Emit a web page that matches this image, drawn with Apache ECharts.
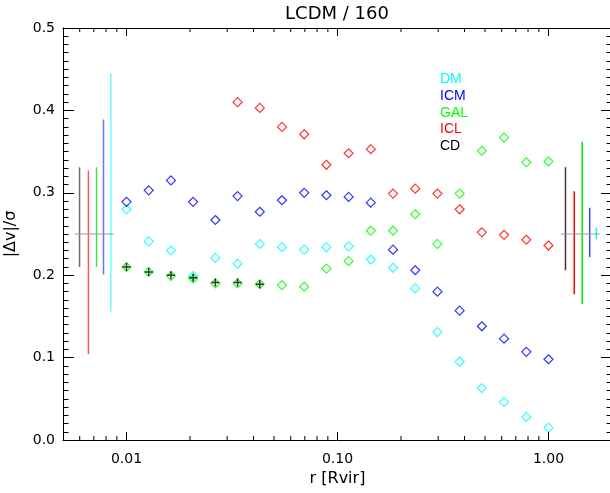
<!DOCTYPE html>
<html>
<head>
<meta charset="utf-8">
<script src="https://cdn.jsdelivr.net/npm/echarts@6/dist/echarts.min.js"></script>
<style>html,body{margin:0;padding:0;background:#fff}#c{width:610px;height:493px}</style>
</head>
<body>
<div id="c"></div>
<script>
// radii (r / Rvir)
const radii = [0.0100, 0.01274, 0.01624, 0.02069, 0.02637, 0.03360, 0.04281, 0.05456, 0.06952, 0.08859,
               0.1129, 0.1438, 0.1833, 0.2336, 0.2976, 0.3793, 0.4833, 0.6158, 0.7848, 1.0000];
const dmVals  = [0.280, 0.241, 0.230, 0.199, 0.221, 0.214, 0.238, 0.234, 0.231, 0.234,
                 0.235, 0.219, 0.209, 0.184, 0.131, 0.095, 0.063, 0.046, 0.028, 0.015];
const icmVals = [0.289, 0.303, 0.315, 0.289, 0.267, 0.296, 0.277, 0.291, 0.300, 0.297,
                 0.295, 0.288, 0.231, 0.206, 0.180, 0.157, 0.138, 0.123, 0.107, 0.098];
const galVals = [0.210, 0.204, 0.199, 0.196, 0.190, 0.190, 0.189, 0.188, 0.186, 0.208,
                 0.217, 0.254, 0.254, 0.274, 0.238, 0.299, 0.351, 0.367, 0.337, 0.338];
// ICL starts at the 6th radius
const iclVals = [null, null, null, null, null, 0.410, 0.403, 0.380, 0.371, 0.334,
                 0.348, 0.353, 0.299, 0.305, 0.299, 0.280, 0.252, 0.249, 0.243, 0.236];
// CD only at the 7 innermost radii
const cdVals  = [0.210, 0.204, 0.200, 0.197, 0.191, 0.191, 0.189];

// error-bar indicators (order: CD, ICL, GAL, ICM, DM)
const errCenter = 0.25;
const errLeftX  = [0.00599, 0.00660, 0.00721, 0.00778, 0.00843];
const errLeftLo = [0.210, 0.104, 0.210, 0.201, 0.156];
const errLeftHi = [0.331, 0.327, 0.331, 0.389, 0.445];
const errLeftRef = [0.00569, 0.00871];
const errRightX  = [1.204, 1.325, 1.446, 1.568, 1.685];
const errRightLo = [0.206, 0.177, 0.165, 0.222, 0.244];
const errRightHi = [0.331, 0.302, 0.362, 0.282, 0.258];
const errRightRef = [1.144, 1.750];

const yTickLabels = ['0.0', '0.1', '0.2', '0.3', '0.4', '0.5'];
const xTickLabels = {0.01: '0.01', 0.1: '0.10', 1: '1.00'};
const xMajorTicks = [0.01, 0.1, 1];
const xMinorTicks = [0.006, 0.007, 0.008, 0.009,
                     0.02, 0.03, 0.04, 0.05, 0.06, 0.07, 0.08, 0.09,
                     0.2, 0.3, 0.4, 0.5, 0.6, 0.7, 0.8, 0.9];

const names = ['DM', 'ICM', 'GAL', 'ICL', 'CD'];
const colors = {DM: '#00ffff', ICM: '#0000ff', GAL: '#00ff00', ICL: '#ff0000', CD: '#000000'};
const errLeftColors  = ['#6e6e6e', '#ff5555', '#44e044', '#6e6eff', '#66ffff'];
const errRightColors = ['#3c3c3c', '#ff0000', '#00ee00', '#4848ee', '#00ffff'];

const chart = echarts.init(document.getElementById('c'), null, {renderer: 'canvas'});

function pts(vals) {
  const out = [];
  vals.forEach((v, i) => { if (v !== null) out.push([radii[i], v]); });
  return out;
}
function diamondSeries(name, vals) {
  return {
    name, type: 'scatter', data: pts(vals), symbol: 'diamond', symbolSize: 9,
    itemStyle: {color: 'rgba(0,0,0,0)', borderColor: colors[name], borderWidth: 1.2},
    z: 5
  };
}
const series = [];
// error bars
errLeftX.forEach((x, i) => series.push({
  name: 'errL' + i, type: 'line', data: [[x, errLeftLo[i]], [x, errLeftHi[i]]],
  showSymbol: false, symbol: 'none', lineStyle: {color: errLeftColors[i], width: 1.5}, z: 3, silent: true
}));
errRightX.forEach((x, i) => series.push({
  name: 'errR' + i, type: 'line', data: [[x, errRightLo[i]], [x, errRightHi[i]]],
  showSymbol: false, symbol: 'none', lineStyle: {color: errRightColors[i], width: 1.5}, z: 3, silent: true
}));
[errLeftRef, errRightRef].forEach((r, i) => series.push({
  name: 'ref' + i, type: 'line', data: [[r[0], errCenter], [r[1], errCenter]],
  showSymbol: false, symbol: 'none', lineStyle: {color: '#999999', width: 1}, z: 4, silent: true
}));
series.push(diamondSeries('DM', dmVals));
series.push(diamondSeries('ICM', icmVals));
series.push(diamondSeries('GAL', galVals));
series.push(diamondSeries('ICL', iclVals));
series.push({
  name: 'CD', type: 'scatter', data: pts(cdVals),
  symbol: 'path://M5,0 L5,10 M0,5 L10,5', symbolSize: 8,
  itemStyle: {color: 'none', borderColor: '#000', borderWidth: 1.5}, z: 6
});
// x-axis ticks (bottom and top), log style
const tickData = xMajorTicks.map(v => [v, 0, 1]).concat(xMinorTicks.map(v => [v, 0, 0]));
series.push({
  type: 'custom', silent: true, clip: false, z: 10,
  data: tickData,
  renderItem(params, api) {
    const v = api.value(0);
    const L = api.value(2) ? 8 : 4;
    const b = api.coord([v, 0]);
    const t = api.coord([v, 0.5]);
    const st = {stroke: '#000', lineWidth: 1};
    return {type: 'group', children: [
      {type: 'line', shape: {x1: b[0], y1: b[1], x2: b[0], y2: b[1] - L}, style: st},
      {type: 'line', shape: {x1: t[0], y1: t[1], x2: t[0], y2: t[1] + L}, style: st}
    ]};
  }
});

const tickFont = {fontFamily: 'DejaVu Sans', fontSize: 14, color: '#000'};
const yAxisCommon = {
  type: 'value', min: 0, max: 0.5, interval: 0.1,
  axisLine: {show: true, lineStyle: {color: '#000', width: 1}},
  axisTick: {show: true, inside: true, length: 11, lineStyle: {color: '#000', width: 1}},
  minorTick: {show: true, splitNumber: 10, length: 5.5, lineStyle: {color: '#000', width: 1}},
  splitLine: {show: false}, minorSplitLine: {show: false}
};

const legendGraphics = names.map((n, i) => ({
  type: 'text', x: 440, y: 79.5 + i * 16.6,
  style: {text: n, fill: colors[n], font: '14px "Liberation Sans"', textVerticalAlign: 'middle'}
}));

chart.setOption({
  animation: false,
  backgroundColor: '#fff',
  grid: {left: 63, top: 28, width: 549, height: 412, show: false, containLabel: false, outerBoundsMode: 'none'},
  xAxis: [{
    type: 'log', logBase: 10, min: 0.005, max: 2.0, position: 'bottom',
    axisLine: {show: true, onZero: false, lineStyle: {color: '#000', width: 1}},
    axisTick: {show: false}, splitLine: {show: false},
    axisLabel: Object.assign({
      margin: 12, showMinLabel: true, showMaxLabel: true,
      formatter: v => {
        for (const k of xMajorTicks) if (Math.abs(v - k) / k < 1e-6) return xTickLabels[k];
        return '';
      }
    }, tickFont),
    name: 'r [Rvir]', nameLocation: 'middle', nameGap: 31,
    nameTextStyle: {fontFamily: 'DejaVu Sans', fontSize: 16, color: '#000'}
  }, {
    type: 'log', logBase: 10, min: 0.005, max: 2.0, position: 'top',
    axisLine: {show: true, onZero: false, lineStyle: {color: '#000', width: 1}},
    axisTick: {show: false}, axisLabel: {show: false}, splitLine: {show: false}
  }],
  yAxis: [Object.assign({}, yAxisCommon, {
    position: 'left',
    axisLabel: Object.assign({margin: 8, formatter: v => yTickLabels[Math.round(v * 10)]}, tickFont),
    name: '|Δv|/σ', nameLocation: 'middle', nameGap: 44, nameRotate: 90,
    nameTextStyle: {fontFamily: 'DejaVu Sans', fontSize: 16, color: '#000'}
  }), Object.assign({}, yAxisCommon, {
    position: 'right', axisLabel: {show: false}
  })],
  graphic: [{
    type: 'text', x: 337, y: 14,
    style: {text: 'LCDM / 160', font: '18px "DejaVu Sans"', fill: '#000', textAlign: 'center', textVerticalAlign: 'middle'}
  }].concat(legendGraphics),
  series
});
</script>
</body>
</html>
